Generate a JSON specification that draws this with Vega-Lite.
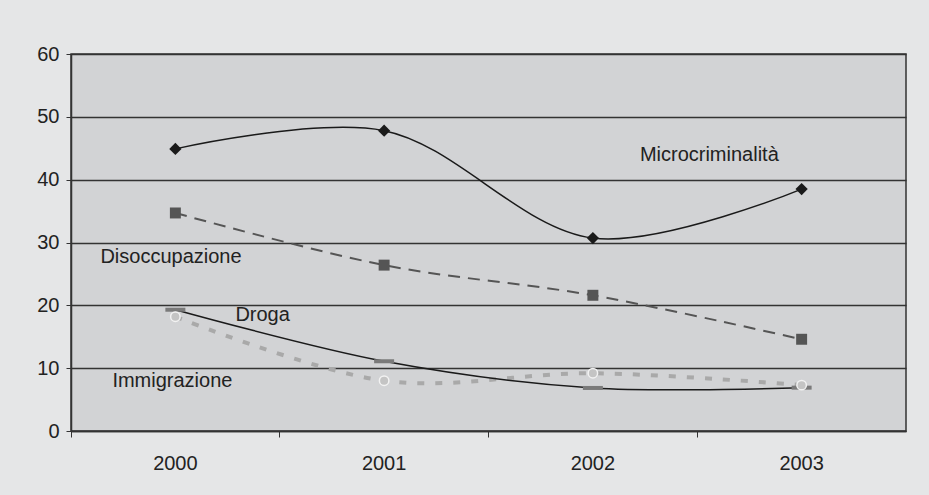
{
  "$schema": "https://vega.github.io/schema/vega-lite/v6.json",
  "autosize": {"type": "none"},
  "width": 835,
  "height": 377,
  "padding": {"left": 71, "top": 54, "right": 23, "bottom": 64},
  "background": "#e5e6e7",
  "config": {
    "font": "Liberation Sans",
    "view": {"fill": "#d2d3d5", "stroke": "#333333", "strokeWidth": 1.5}
  },
  "datasets": {
    "serie": [
      {"serie": "Microcriminalità", "anno": "2000", "valore": 44.9},
      {"serie": "Microcriminalità", "anno": "2001", "valore": 47.8},
      {"serie": "Microcriminalità", "anno": "2002", "valore": 30.7},
      {"serie": "Microcriminalità", "anno": "2003", "valore": 38.5},
      {"serie": "Disoccupazione", "anno": "2000", "valore": 34.7},
      {"serie": "Disoccupazione", "anno": "2001", "valore": 26.4},
      {"serie": "Disoccupazione", "anno": "2002", "valore": 21.6},
      {"serie": "Disoccupazione", "anno": "2003", "valore": 14.6},
      {"serie": "Droga", "anno": "2000", "valore": 19.3},
      {"serie": "Droga", "anno": "2001", "valore": 11.1},
      {"serie": "Droga", "anno": "2002", "valore": 6.85},
      {"serie": "Droga", "anno": "2003", "valore": 6.9},
      {"serie": "Immigrazione", "anno": "2000", "valore": 18.2},
      {"serie": "Immigrazione", "anno": "2001", "valore": 8.0},
      {"serie": "Immigrazione", "anno": "2002", "valore": 9.2},
      {"serie": "Immigrazione", "anno": "2003", "valore": 7.3}
    ],
    "etichette": [
      {"testo": "Microcriminalità", "anno": "2002", "valore": 44},
      {"testo": "Disoccupazione", "anno": "2000", "valore": 27.7},
      {"testo": "Droga", "anno": "2000", "valore": 18.5},
      {"testo": "Immigrazione", "anno": "2000", "valore": 8.0}
    ]
  },
  "encoding": {
    "x": {
      "field": "anno", "type": "ordinal",
      "scale": {"type": "band", "domain": ["2000", "2001", "2002", "2003"], "paddingInner": 0, "paddingOuter": 0},
      "axis": {
        "title": null, "labelAngle": 0, "bandPosition": 0,
        "domainColor": "#333333", "domainWidth": 1.5, "tickColor": "#333333", "tickSize": 6,
        "labelFontSize": 20, "labelColor": "#222222", "labelPadding": 16, "labelFont": "Liberation Sans"
      }
    },
    "y": {
      "field": "valore", "type": "quantitative",
      "scale": {"domain": [0, 60], "nice": false},
      "axis": {
        "title": null, "values": [0, 10, 20, 30, 40, 50, 60],
        "grid": true, "gridColor": "#333333", "gridWidth": 1.5, "gridOpacity": 1,
        "domainColor": "#333333", "domainWidth": 1.5, "tickColor": "#333333", "tickSize": 5,
        "labelFontSize": 20, "labelColor": "#222222", "labelPadding": 7, "labelFont": "Liberation Sans"
      }
    }
  },
  "layer": [
    {
      "data": {"name": "serie"},
      "transform": [{"filter": "datum.serie === 'Immigrazione'"}],
      "mark": {"type": "line", "interpolate": "catmull-rom", "color": "#a9a9a9", "strokeWidth": 4, "strokeDash": [7, 11]}
    },
    {
      "data": {"name": "serie"},
      "transform": [{"filter": "datum.serie === 'Droga'"}],
      "mark": {"type": "line", "interpolate": "catmull-rom", "color": "#1a1a1a", "strokeWidth": 1.5}
    },
    {
      "data": {"name": "serie"},
      "transform": [{"filter": "datum.serie === 'Disoccupazione'"}],
      "mark": {"type": "line", "interpolate": "catmull-rom", "color": "#555555", "strokeWidth": 2, "strokeDash": [12, 8]}
    },
    {
      "data": {"name": "serie"},
      "transform": [{"filter": "datum.serie === 'Microcriminalità'"}],
      "mark": {"type": "line", "interpolate": "catmull-rom", "color": "#1a1a1a", "strokeWidth": 1.5}
    },
    {
      "data": {"name": "serie"},
      "transform": [{"filter": "datum.serie === 'Droga'"}],
      "mark": {"type": "point", "shape": "stroke", "size": 400, "stroke": "#7a7a7a", "strokeWidth": 4, "opacity": 1, "filled": false}
    },
    {
      "data": {"name": "serie"},
      "transform": [{"filter": "datum.serie === 'Immigrazione'"}],
      "mark": {"type": "point", "shape": "circle", "size": 90, "fill": "#c4c4c4", "stroke": "#f2f2f2", "strokeWidth": 1.5, "opacity": 1, "filled": true}
    },
    {
      "data": {"name": "serie"},
      "transform": [{"filter": "datum.serie === 'Disoccupazione'"}],
      "mark": {"type": "point", "shape": "square", "size": 120, "fill": "#555555", "opacity": 1, "filled": true}
    },
    {
      "data": {"name": "serie"},
      "transform": [{"filter": "datum.serie === 'Microcriminalità'"}],
      "mark": {"type": "point", "shape": "diamond", "size": 150, "fill": "#1a1a1a", "opacity": 1, "filled": true}
    },
    {
      "data": {"name": "etichette"},
      "transform": [{"filter": "datum.testo === 'Microcriminalità'"}],
      "mark": {"type": "text", "align": "left", "baseline": "middle", "dx": 47, "fontSize": 20, "color": "#222222"},
      "encoding": {"text": {"field": "testo"}}
    },
    {
      "data": {"name": "etichette"},
      "transform": [{"filter": "datum.testo === 'Disoccupazione'"}],
      "mark": {"type": "text", "align": "left", "baseline": "middle", "dx": -75, "fontSize": 20, "color": "#222222"},
      "encoding": {"text": {"field": "testo"}}
    },
    {
      "data": {"name": "etichette"},
      "transform": [{"filter": "datum.testo === 'Droga'"}],
      "mark": {"type": "text", "align": "left", "baseline": "middle", "dx": 60, "fontSize": 20, "color": "#222222"},
      "encoding": {"text": {"field": "testo"}}
    },
    {
      "data": {"name": "etichette"},
      "transform": [{"filter": "datum.testo === 'Immigrazione'"}],
      "mark": {"type": "text", "align": "left", "baseline": "middle", "dx": -63, "fontSize": 20, "color": "#222222"},
      "encoding": {"text": {"field": "testo"}}
    }
  ]
}
